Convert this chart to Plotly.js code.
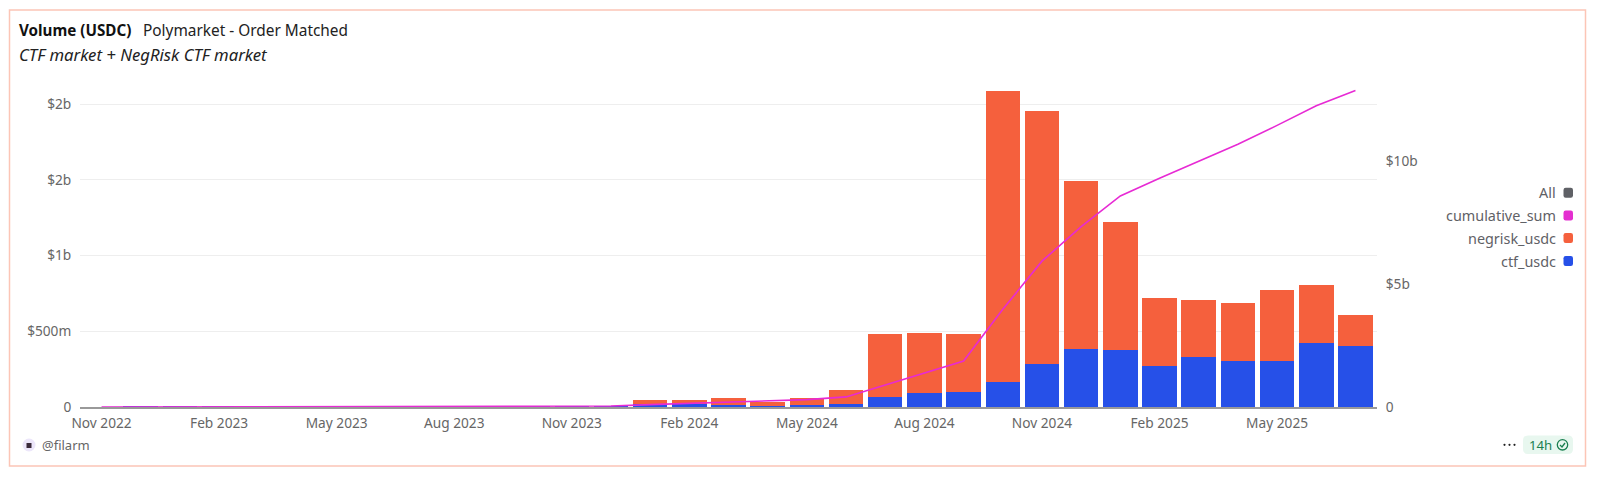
<!DOCTYPE html>
<html>
<head>
<meta charset="utf-8">
<script src="https://cdn.plot.ly/plotly-3.0.1.min.js"></script>
<style>html,body{margin:0;padding:0;background:#fff;overflow:hidden}#chart{width:1600px;height:477px}</style>
</head>
<body>
<div id="chart"></div>
<script>
const months = ["Nov 2022","Dec 2022","Jan 2023","Feb 2023","Mar 2023","Apr 2023","May 2023","Jun 2023","Jul 2023","Aug 2023","Sep 2023","Oct 2023","Nov 2023","Dec 2023","Jan 2024","Feb 2024","Mar 2024","Apr 2024","May 2024","Jun 2024","Jul 2024","Aug 2024","Sep 2024","Oct 2024","Nov 2024","Dec 2024","Jan 2025","Feb 2025","Mar 2025","Apr 2025","May 2025","Jun 2025","Jul 2025"];
const ctfUsdc = [0,1,1.5,1.5,1.5,1,1,1,1,1,1,1,2,5,20,20,13,6,13,20,64,94,99,167,281,386,375,270,329,303,303,421,406];
const negriskUsdc = [0,0,0,0,0,0,0,0,0,0,0,0,0,0,26,24,49,25,46,92,420,395,386,1922,1676,1105,849,447,377,383,471,382,199];
const cumulativeSum = [0.0005,0.002,0.004,0.006,0.008,0.01,0.011,0.012,0.013,0.015,0.016,0.018,0.02,0.04,0.095,0.15,0.22,0.25,0.30,0.41,0.89,1.38,1.87,3.97,5.93,7.33,8.58,9.3,10.0,10.68,11.45,12.25,12.87];
const xTickLabels = ["Nov 2022","Feb 2023","May 2023","Aug 2023","Nov 2023","Feb 2024","May 2024","Aug 2024","Nov 2024","Feb 2025","May 2025"];
const leftTickVals = [0,500,1000,1500,2000];
const leftTickText = ["0","$500m","$1b","$2b","$2b"];
const rightTickVals = [0,5,10];
const rightTickText = ["0","$5b","$10b"];
const legendNames = ["All","cumulative_sum","negrisk_usdc","ctf_usdc"];
const legendColors = ["#5f6166","#e42fd0","#f5603d","#2650e8"];

const W = 1600, H = 477, L = 80, R = 1377, T = 88, B = 407;
const FONT = '"Noto Sans", sans-serif';
const px = x => (x - L) / (R - L);
const py = y => (B - y) / (B - T);
const rr = (x0, y0, x1, y1, r) => {
  const X = px, Y = py;
  return `M${X(x0 + r)},${Y(y0)} L${X(x1 - r)},${Y(y0)} Q${X(x1)},${Y(y0)} ${X(x1)},${Y(y0 + r)} L${X(x1)},${Y(y1 - r)} Q${X(x1)},${Y(y1)} ${X(x1 - r)},${Y(y1)} L${X(x0 + r)},${Y(y1)} Q${X(x0)},${Y(y1)} ${X(x0)},${Y(y1 - r)} L${X(x0)},${Y(y0 + r)} Q${X(x0)},${Y(y0)} ${X(x0 + r)},${Y(y0)} Z`;
};
const paperShape = o => Object.assign({xref: 'paper', yref: 'paper', layer: 'above', line: {width: 0}}, o);
const note = (x, y, text, size, color, anchor) => ({
  xref: 'paper', yref: 'paper', x: px(x), y: py(y), text, showarrow: false,
  xanchor: anchor || 'left', yanchor: 'middle', borderpad: 0,
  font: {family: FONT, size, color}
});
const circle = (cx, cy, r, fill, line) => paperShape({type: 'circle', x0: px(cx - r), x1: px(cx + r), y0: py(cy + r), y1: py(cy - r), fillcolor: fill, line: line || {width: 0}});

const shapes = [
  paperShape({type: 'rect', x0: px(9.5), x1: px(1585.5), y0: py(466), y1: py(10), line: {color: '#fcc5b6', width: 1.5}, layer: 'below'}),
  circle(29, 445, 6.5, '#ece6fa'),
  paperShape({type: 'rect', x0: px(26.5), x1: px(31.5), y0: py(448), y1: py(443), fillcolor: '#3a2a3a'}),
  circle(1504.5, 444.8, 1.1, '#222'), circle(1509.5, 444.8, 1.1, '#222'), circle(1514.5, 444.8, 1.1, '#222'),
  paperShape({type: 'path', path: rr(1523, 435.5, 1573, 454, 5), fillcolor: '#e8f7ef'}),
  circle(1562.5, 444.8, 5.2, 'rgba(0,0,0,0)', {color: '#1a7f50', width: 1.3}),
  paperShape({type: 'path', path: `M${px(1560)},${py(445)} L${px(1562)},${py(447)} L${px(1565)},${py(443)}`, line: {color: '#1a7f50', width: 1.3}})
];
const annotations = [
  note(17.5, 30.5, '<b>Volume (USDC)</b>', 15.2, '#111'),
  note(141.5, 30.5, 'Polymarket - Order Matched', 15.4, '#222'),
  note(18, 54.5, '<i>CTF market + NegRisk CTF market</i>', 16.7, '#222'),
  note(41, 445, '@filarm', 13, '#666'),
  note(1528, 445, '14h', 13.2, '#1a7f50')
];
const legendYs = [192.7, 215.5, 238, 261];
legendNames.forEach((n, i) => {
  annotations.push(note(1557, legendYs[i], n, 14.4, '#5f6166', 'right'));
  shapes.push(paperShape({type: 'path', path: rr(1563.5, legendYs[i] - 5, 1573, legendYs[i] + 5, 2.2), fillcolor: legendColors[i]}));
});

const hiddenTick = {ticks: 'outside', tickcolor: 'rgba(0,0,0,0)', tickwidth: 0};
const data = [
  {type: 'bar', name: 'ctf_usdc', x: months, y: ctfUsdc, marker: {color: '#2650e8', line: {width: 0}}},
  {type: 'bar', name: 'negrisk_usdc', x: months, y: negriskUsdc, marker: {color: '#f5603d', line: {width: 0}}},
  {type: 'scatter', mode: 'lines', name: 'cumulative_sum', x: months, y: cumulativeSum, yaxis: 'y2', cliponaxis: false, line: {color: '#e72ad4', width: 1.6}}
];
const layout = {
  width: W, height: H, autosize: false,
  margin: {l: L, r: W - R, t: T, b: H - B, pad: 0},
  paper_bgcolor: '#fff', plot_bgcolor: '#fff',
  barmode: 'stack', bargap: 0.12, showlegend: false,
  font: {family: FONT, size: 13.7, color: '#666'},
  xaxis: Object.assign({type: 'category', categoryorder: 'array', categoryarray: months, range: [-0.55, 32.55], tickmode: 'array', tickvals: xTickLabels, ticktext: xTickLabels, showgrid: false, zeroline: false, showline: true, linecolor: '#999', linewidth: 1.5, layer: 'below traces', ticklen: 3, tickangle: 0, tickfont: {size: 13.7, color: '#666'}}, hiddenTick),
  yaxis: Object.assign({range: [0, 2107], tickmode: 'array', tickvals: leftTickVals, ticktext: leftTickText, gridcolor: '#eeeeee', gridwidth: 1, zeroline: false, showline: false, ticklen: 5, tickfont: {size: 13.7, color: '#666'}}, hiddenTick),
  yaxis2: Object.assign({overlaying: 'y', side: 'right', range: [0, 12.97], tickmode: 'array', tickvals: rightTickVals, ticktext: rightTickText, showgrid: false, zeroline: false, showline: false, ticklen: 5, tickfont: {size: 13.7, color: '#666'}}, hiddenTick),
  shapes, annotations
};
Plotly.newPlot('chart', data, layout, {displayModeBar: false, responsive: false});
</script>
</body>
</html>
